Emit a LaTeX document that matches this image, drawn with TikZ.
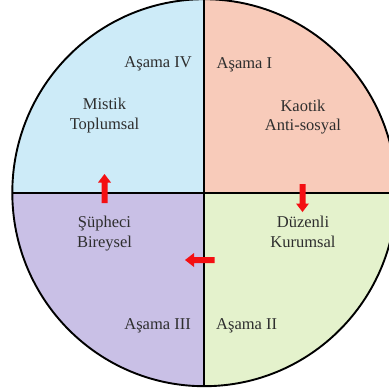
\documentclass[tikz,border=0pt]{standalone}
\usepackage{fontspec}
\setmainfont{Liberation Serif}
\definecolor{qblue}{HTML}{CDEBF8}
\definecolor{qsalmon}{HTML}{F8CBBA}
\definecolor{qlav}{HTML}{C9C0E6}
\definecolor{qgreen}{HTML}{E4F2CC}
\definecolor{txt}{HTML}{2E2E2E}
\definecolor{arr}{HTML}{F40F12}
\begin{document}
\begin{tikzpicture}[x=1pt,y=-1pt,
  lbl/.style={text=txt,font=\fontsize{16.5}{19.5}\selectfont,inner sep=0pt,align=center},
  redarrow/.style={fill=arr,draw=none}]
\useasboundingbox (0,0) rectangle (389,392);
\clip (0,0) rectangle (389,392);
\coordinate (C) at (204.3,192.7);
\def\Rx{192}
\def\Ry{193.5}
% quadrants
\begin{scope}
\clip (C) ellipse[x radius=\Rx,y radius=\Ry];
\fill[qsalmon] (C) rectangle ++(200,-200);
\fill[qblue] (C) rectangle ++(-200,-200);
\fill[qlav] (C) rectangle ++(-200,200);
\fill[qgreen] (C) rectangle ++(200,200);
\end{scope}
% outline and dividers
\draw[line width=1.9pt,black] (C) ellipse[x radius=\Rx,y radius=\Ry];
\draw[line width=1.9pt,black] ([yshift=-\Ry]C) -- ([yshift=\Ry]C);
\draw[line width=1.9pt,black] ([xshift=-\Rx]C) -- ([xshift=\Rx]C);
% labels
\node[lbl,anchor=base east] (a4) at (192,67) {Aşama IV};
\node[lbl,anchor=base west] (a1) at (216.5,68) {Aşama I};
\node[lbl,anchor=base east] (a3) at (191,329) {Aşama III};
\node[lbl,anchor=base west] (a2) at (216,329) {Aşama II};
\node[lbl,anchor=base] (mt) at (104.5,129) {Mistik\\Toplumsal};
\node[lbl,anchor=base] (ka) at (303,130.5) {Kaotik\\Anti-sosyal};
\node[lbl,anchor=base] (sb) at (104.5,247) {Şüpheci\\Bireysel};
\node[lbl,anchor=base] (dk) at (303,247) {Düzenli\\Kurumsal};
% arrows
\fill[redarrow] (101.5,203) -- (107.5,203) -- (107.5,182.5) -- (111,182.5) -- (104.5,174) -- (98,182.5) -- (101.5,182.5) -- cycle;
\fill[redarrow] (299.5,184) -- (305.5,184) -- (305.5,203.5) -- (309,203.5) -- (302.5,212) -- (296,203.5) -- (299.5,203.5) -- cycle;
\fill[redarrow] (214.5,257) -- (214.5,263) -- (194,263) -- (194,267) -- (185,260) -- (194,253) -- (194,257) -- cycle;
\end{tikzpicture}
\end{document}
